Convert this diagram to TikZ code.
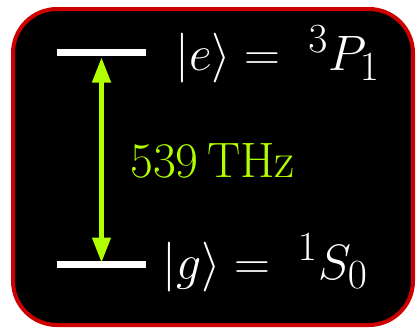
\documentclass[tikz,border=0pt]{standalone}
\usepackage{amsmath,amssymb}
\usepackage{tikz}
\usetikzlibrary{arrows.meta, positioning}

\definecolor{framered}{RGB}{204,0,0}
\definecolor{transgreen}{RGB}{178,255,0}

\begin{document}
\begin{tikzpicture}[
    x=0.5pt, y=-0.5pt,
    frame/.style={draw=framered, line width=2pt, fill=black, rounded corners=22pt},
    level/.style={draw=white, line width=3.5pt},
    trans/.style={{Triangle[length=12.5pt, width=9pt]}-{Triangle[length=12.5pt, width=9pt]}, draw=transgreen, line width=2.2pt},
    label/.style={anchor=base west, inner sep=0pt, text=white, font=\fontsize{27.5}{32}\selectfont}
]

\useasboundingbox (0,0) rectangle (418,328);
\draw[frame] (13,9) rectangle (413,325);

% energy levels
\coordinate (eL) at (57,52);
\coordinate (eR) at (146,52);
\coordinate (gL) at (57,264.5);
\coordinate (gR) at (146,264.5);
\draw[level] (eL) -- (eR);
\draw[level] (gL) -- (gR);

\node[label] (e) at (175,70.5) {$|e\rangle = \;{}^3P_1$};
\node[label] (g) at (162,279) {$|g\rangle = \;{}^1S_0$};

% transition
\coordinate (eT) at (101.5,57.5);
\coordinate (gT) at (101.5,262.5);
\draw[trans] (eT) -- (gT);
\node[label, text=transgreen, font=\fontsize{25.5}{30}\selectfont] (nu) at (130,177) {$539\,\mathrm{THz}$};

\end{tikzpicture}
\end{document}
